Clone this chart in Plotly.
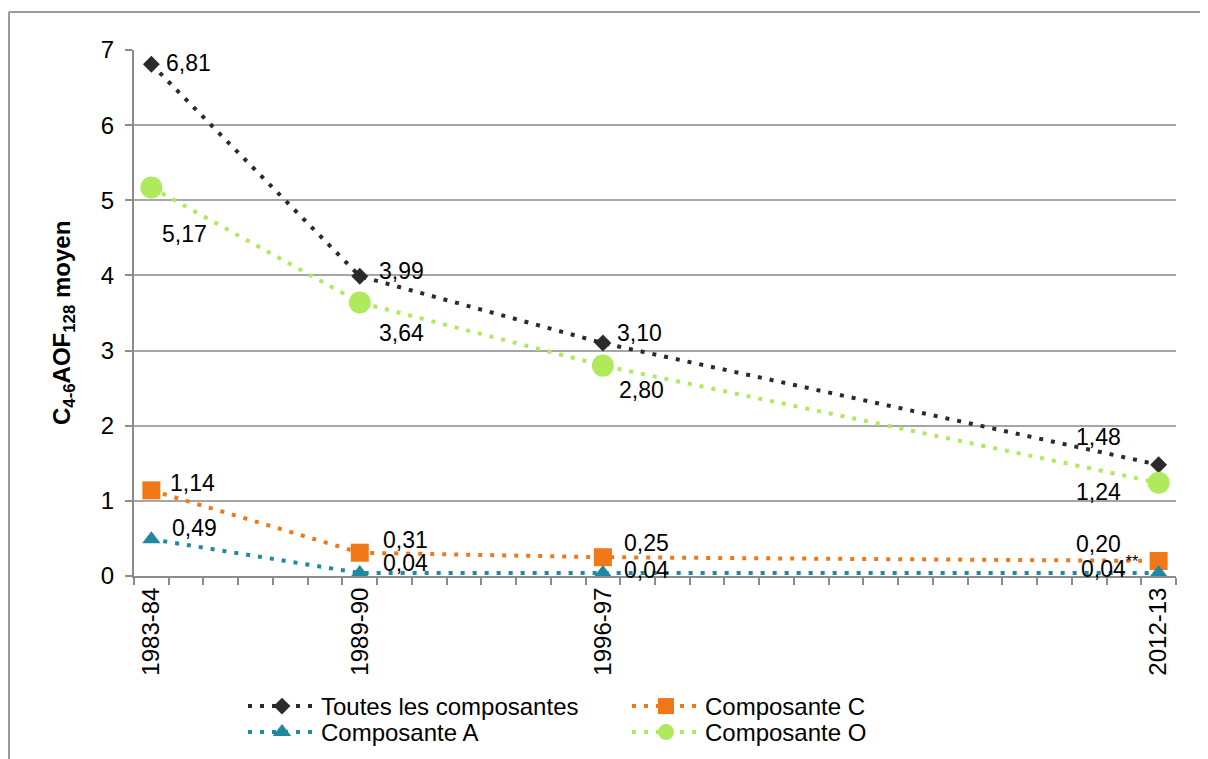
import plotly.graph_objects as go

# ---- data ----
periods = ["1983-84", "1989-90", "1996-97", "2012-13"]
years = [1983, 1989, 1996, 2012]
series_names = ["Toutes les composantes", "Composante C", "Composante A", "Composante O"]
toutes = [6.81, 3.99, 3.10, 1.48]
comp_c = [1.14, 0.31, 0.25, 0.20]
comp_a = [0.49, 0.04, 0.04, 0.04]
comp_o = [5.17, 3.64, 2.80, 1.24]
suffix_a = ["", "", "", "<sup>**</sup>"]
y_title = "<b>C<sub>4-6</sub>AOF<sub>128</sub> moyen</b>"

colors = ["#2b2b2b", "#F07818", "#1E89A0", "#AEEA5C"]
symbols = ["diamond", "square", "triangle-up", "circle"]
sizes = [13, 18, 16, 22]
legend_ids = ["legend", "legend", "legend2", "legend2"]
values = [toutes, comp_c, comp_a, comp_o]

FONT = "Liberation Sans, Arial, Helvetica, sans-serif"

# page body has an 8px margin: figure drawn at (8,8)
W, H = 1200, 751
L, T, R, B = 126, 42, 32, 183
PW, PH = W - L - R, H - T - B

fig = go.Figure()
for name, vals, col, sym, sz, lg in zip(series_names, values, colors, symbols, sizes, legend_ids):
    fig.add_trace(go.Scatter(
        x=years, y=vals, name=name, mode="lines+markers",
        line=dict(color=col, width=4, dash="4px,8px"),
        marker=dict(symbol=sym, size=sz, color=col, line=dict(width=0)),
        hoverinfo="skip", legend=lg,
    ))

def fmt(v):
    return f"{v:.2f}".replace(".", ",")

def px(xp):
    return (xp - L) / PW

def py(yp):
    return (T + PH - yp) / PH

# label offsets (xanchor, xshift, yshift) per series per point
offsets = {
    0: [("left", 13, 1), ("left", 17, 5), ("left", 12, 10), ("right", -36, 28)],
    1: [("left", 17, 7), ("left", 21, 13), ("left", 19, 14), ("right", -36, 17)],
    2: [("left", 19, 11), ("left", 21, 10), ("left", 19, 3), ("right", -18, 6)],
    3: [("left", 9, -46), ("left", 17, -31), ("left", 14, -24), ("right", -36, -9)],
}
annotations = []
for si, vals in enumerate(values):
    for pi, (x, v) in enumerate(zip(years, vals)):
        xa, xs, ys = offsets[si][pi]
        txt = fmt(v) + (suffix_a[pi] if si == 2 else "")
        annotations.append(dict(
            x=x, y=v, xref="x", yref="y", text=txt, showarrow=False,
            xanchor=xa, yanchor="middle", xshift=xs, yshift=ys,
            font=dict(family=FONT, size=23, color="#000000"),
        ))

# y-axis title
annotations.append(dict(
    x=px(55), y=py(315), xref="paper", yref="paper", text=y_title,
    textangle=-90, showarrow=False, xanchor="center", yanchor="middle",
    font=dict(family=FONT, size=24, color="#000000"),
))

legend_common = dict(
    orientation="h", x=px(235), xanchor="left", yanchor="top",
    entrywidth=301, entrywidthmode="pixels",
    font=dict(family=FONT, size=24, color="#000000"),
    itemwidth=68, tracegroupgap=0, bgcolor="rgba(0,0,0,0)",
    itemclick=False,
)

fig.update_layout(
    width=W, height=H,
    margin=dict(l=L, r=R, t=T, b=B, pad=0, autoexpand=False),
    paper_bgcolor="white", plot_bgcolor="white",
    font=dict(family=FONT, size=23, color="#000000"),
    showlegend=True,
    legend=dict(legend_common, y=py(676)),
    legend2=dict(legend_common, y=py(702)),
    annotations=annotations,
    shapes=[
        dict(type="line", xref="paper", yref="paper",
             x0=px(1), x1=px(W + 5), y0=py(4), y1=py(4),
             line=dict(color="#9a9a9a", width=2)),
        dict(type="line", xref="paper", yref="paper",
             x0=px(1), x1=px(1), y0=py(4), y1=py(H + 5),
             line=dict(color="#9a9a9a", width=2)),
    ],
)

fig.update_xaxes(
    range=[1982.5, 2012.5], tickmode="array", tickvals=years, ticktext=periods,
    tickangle=-90, ticks="", showgrid=False, zeroline=False, automargin=False,
    showline=True, linecolor="#8c8c8c", linewidth=2,
    tickfont=dict(family=FONT, size=24, color="#000000"),
    minor=dict(ticks="outside", tick0=1982.5, dtick=1, ticklen=7,
               tickcolor="#8c8c8c", tickwidth=2, showgrid=False),
)
fig.update_yaxes(
    range=[0, 7], dtick=1, tick0=0, ticks="outside", ticklen=7,
    tickcolor="#8c8c8c", tickwidth=2, automargin=False,
    showgrid=True, gridcolor="#a6a6a6", gridwidth=2, zeroline=False,
    showline=True, linecolor="#8c8c8c", linewidth=2,
    tickfont=dict(family=FONT, size=24, color="#000000"),
    ticklabelstandoff=6,
)

fig.write_html("out.html")
